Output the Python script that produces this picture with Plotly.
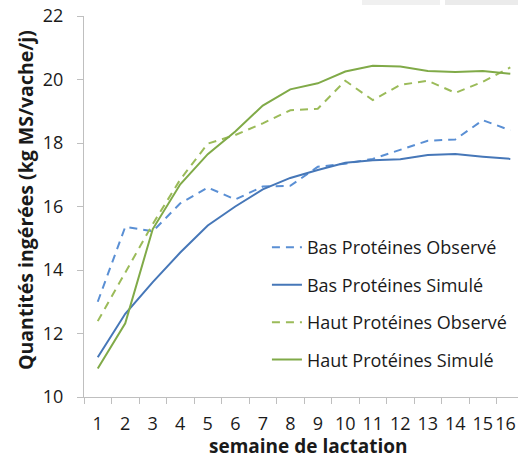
import plotly.graph_objects as go

weeks = [str(i) for i in range(1, 17)]
bas_obs = [13.0, 15.36, 15.22, 16.1, 16.6, 16.22, 16.63, 16.65, 17.25, 17.35, 17.5, 17.78, 18.07, 18.11, 18.72, 18.4]
bas_sim = [11.25, 12.62, 13.62, 14.55, 15.4, 16.0, 16.54, 16.9, 17.15, 17.38, 17.46, 17.49, 17.62, 17.65, 17.57, 17.5]
haut_obs = [12.39, 13.9, 15.45, 16.85, 17.98, 18.25, 18.62, 19.03, 19.08, 19.96, 19.35, 19.83, 19.96, 19.58, 19.93, 20.38]
haut_sim = [10.9, 12.32, 15.29, 16.7, 17.65, 18.36, 19.18, 19.69, 19.88, 20.25, 20.43, 20.41, 20.27, 20.24, 20.27, 20.18]
y_ticks = [10, 12, 14, 16, 18, 20, 22]
x_title = "semaine de lactation"
y_title = "Quantités ingérées (kg MS/vache/j)"

series = [
    ("Bas Protéines Observé", bas_obs, "#5a8fd4", "8px,6px"),
    ("Bas Protéines Simulé", bas_sim, "#4677b8", "solid"),
    ("Haut Protéines Observé", haut_obs, "#9bbb59", "8px,6px"),
    ("Haut Protéines Simulé", haut_sim, "#80aa48", "solid"),
]

fig = go.Figure()
for i, (name, vals, color, dash) in enumerate(series):
    fig.add_trace(go.Scatter(
        x=weeks, y=vals, mode="lines", name=name,
        line=dict(color=color, width=2, dash=dash),
        legendgroup=f"g{i}",
    ))

# last label padded with non-breaking spaces so it stays inside the right edge
x_ticktext = weeks[:-1] + [weeks[-1] + "\u00a0\u00a0"]

font_family = "Open Sans"
fig.update_layout(
    width=518, height=459,
    margin=dict(l=84, r=0, t=16, b=62, autoexpand=False),
    paper_bgcolor="white", plot_bgcolor="white",
    font=dict(family=font_family, size=18, color="#1a1a1a"),
    showlegend=True,
    legend=dict(
        x=0.4215, y=0.245, xanchor="left", yanchor="middle",
        font=dict(size=18, color="#1a1a1a"),
        tracegroupgap=11, bgcolor="rgba(0,0,0,0)",
        itemwidth=30,
    ),
    xaxis=dict(
        type="category", range=[-0.5, 15.28],
        tickmode="array", tickvals=weeks, ticktext=x_ticktext,
        tickson="boundaries", ticks="outside", ticklen=6, tickcolor="#bfbfbf",
        showline=True, linecolor="#bfbfbf", linewidth=1,
        showgrid=False, zeroline=False, automargin=False,
        tickangle=0, tickfont=dict(size=18), ticklabelstandoff=10,
        ticklabeloverflow="allow",
    ),
    yaxis=dict(
        range=[10, 22], tickvals=y_ticks,
        ticks="outside", ticklen=6, tickcolor="#bfbfbf",
        showline=True, linecolor="#bfbfbf", linewidth=1,
        showgrid=False, zeroline=False, automargin=False,
        tickfont=dict(size=18), ticklabelstandoff=10,
        ticklabeloverflow="allow",
    ),
)

fig.add_annotation(text=x_title, xref="paper", yref="paper",
                   x=(308 - 84) / 434, y=-(446 - 397) / 381, xanchor="center", yanchor="middle",
                   showarrow=False, font=dict(size=19, family=font_family, weight="bold", color="#1a1a1a"))
fig.add_annotation(text=y_title, xref="paper", yref="paper", textangle=-90,
                   x=(25 - 84) / 434, y=(397 - 200) / 381, xanchor="center", yanchor="middle",
                   showarrow=False, font=dict(size=19.5, family=font_family, weight="bold", color="#1a1a1a"))

fig.add_shape(type="rect", xref="paper", yref="paper", x0=(362-84)/434, x1=(440-84)/434,
              y0=1 + 11/381, y1=1 + 16/381, fillcolor="#f0f0f0", line=dict(width=0), layer="below")
fig.add_shape(type="rect", xref="paper", yref="paper", x0=(445-84)/434, x1=1,
              y0=1 + 11/381, y1=1 + 16/381, fillcolor="#ebebeb", line=dict(width=0), layer="below")

fig.write_html("out.html", config={"displayModeBar": False},
               post_script="document.body.style.margin='0';")
